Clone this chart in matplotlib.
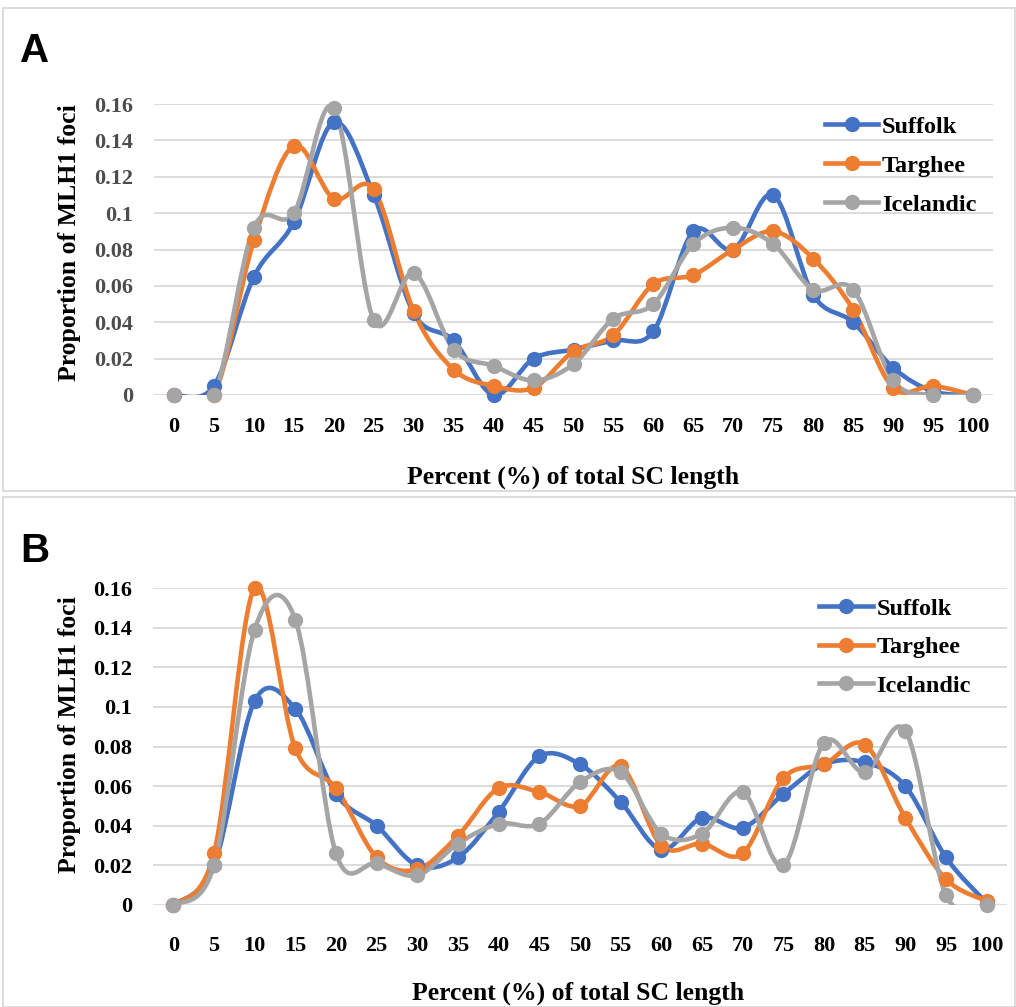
import matplotlib.pyplot as plt
import numpy as np
from matplotlib.path import Path
from matplotlib.patches import PathPatch, Rectangle
from matplotlib.lines import Line2D

plt.rcParams['font.family'] = ['Liberation Serif', 'DejaVu Serif']
plt.rcParams['font.weight'] = 'bold'

categories = [str(v) for v in range(0, 101, 5)]

# panel A
suffolk_a = [0, 0.005, 0.065, 0.095, 0.150, 0.110, 0.045, 0.030, 0.000, 0.020, 0.025,
             0.030, 0.035, 0.090, 0.080, 0.110, 0.055, 0.040, 0.015, 0.002, 0]
targhee_a = [0, 0, 0.085, 0.137, 0.108, 0.113, 0.046, 0.014, 0.005, 0.004, 0.024,
             0.033, 0.061, 0.066, 0.080, 0.090, 0.075, 0.047, 0.004, 0.005, 0]
icelandic_a = [0, 0, 0.092, 0.100, 0.158, 0.041, 0.067, 0.025, 0.016, 0.008, 0.017,
               0.042, 0.050, 0.083, 0.092, 0.083, 0.058, 0.058, 0.008, 0, 0]

# panel B
suffolk_b = [0, 0.020, 0.103, 0.099, 0.056, 0.040, 0.020, 0.024, 0.047, 0.075, 0.071,
             0.052, 0.028, 0.044, 0.039, 0.056, 0.071, 0.072, 0.060, 0.024, 0.001]
targhee_b = [0, 0.026, 0.160, 0.079, 0.059, 0.024, 0.018, 0.035, 0.059, 0.057, 0.050,
             0.070, 0.030, 0.031, 0.026, 0.064, 0.071, 0.081, 0.044, 0.013, 0.002]
icelandic_b = [0, 0.020, 0.139, 0.144, 0.026, 0.021, 0.015, 0.031, 0.041, 0.041, 0.062,
               0.067, 0.036, 0.036, 0.057, 0.020, 0.082, 0.067, 0.088, 0.005, 0]

names = ["Suffolk", "Targhee", "Icelandic"]
colors = ["#4472C4", "#ED7D31", "#A5A5A5"]
ytick_labels = ["0", "0.02", "0.04", "0.06", "0.08", "0.1", "0.12", "0.14", "0.16"]

W, H = 1016, 1007


def smooth_path(x, y):
    # Excel-like smoothed line: cubic Bezier with Catmull-Rom control points
    pts = np.column_stack([x, y]).astype(float)
    n = len(pts)
    verts = [pts[0]]
    codes = [Path.MOVETO]
    for i in range(n - 1):
        p0 = pts[i - 1] if i > 0 else pts[i]
        p1 = pts[i]
        p2 = pts[i + 1]
        p3 = pts[i + 2] if i + 2 < n else pts[i + 1]
        c1 = p1 + (p2 - p0) / 6.0
        c2 = p2 - (p3 - p1) / 6.0
        verts += [c1, c2, p2]
        codes += [Path.CURVE4] * 3
    return Path(verts, codes)


def draw_panel(ax, series, legend_anchor, xpad, ycolor, lspacing):
    x = np.arange(len(categories))
    ax.set_xlim(-0.5, len(categories) - 0.5)
    ax.set_ylim(0, 0.16)
    ax.set_yticks(np.arange(0, 0.161, 0.02))
    ax.set_yticklabels(ytick_labels)
    ax.set_xticks(x)
    ax.set_xticklabels(categories)
    ax.grid(axis='y', color='#D9D9D9', lw=1.3)
    ax.set_axisbelow(True)
    for s in ax.spines.values():
        s.set_visible(False)
    ax.tick_params(axis='x', length=0, labelsize=16, pad=xpad)
    ax.tick_params(axis='y', length=0, labelsize=16, pad=15, labelcolor=ycolor)
    for vals, col in zip(series, colors):
        ax.add_patch(PathPatch(smooth_path(x, vals), fill=False, edgecolor=col,
                               lw=3.3, capstyle='round', joinstyle='round', zorder=3))
        ax.plot(x, vals, 'o', color=col, ms=10, zorder=4, clip_on=False)
    handles = [Line2D([0], [0], color=c, lw=3.3, marker='o', ms=10) for c in colors]
    ax.legend(handles, names, loc='upper left', bbox_to_anchor=legend_anchor,
              frameon=False, fontsize=17.5, handlelength=2.2, handletextpad=0.15,
              labelspacing=lspacing, borderaxespad=0)


fig = plt.figure(figsize=(W / 100, H / 100), dpi=100)

fig.add_artist(Rectangle((3 / W, 1 - 491 / H), 1012 / W, 483 / H,
                         transform=fig.transFigure, fill=False, edgecolor='#D9D9D9', lw=1.3))
fig.add_artist(Rectangle((3 / W, 0.0), 1012 / W, 510 / H,
                         transform=fig.transFigure, fill=False, edgecolor='#D9D9D9', lw=1.3))

ax_a = fig.add_axes([154 / W, 1 - 395 / H, 839 / W, 291 / H])
draw_panel(ax_a, [suffolk_a, targhee_a, icelandic_a], (0.788, 0.993), 16, '#4D4D4D', 0.70)

ax_b = fig.add_axes([153 / W, 1 - 905 / H, 854 / W, 317 / H])
draw_panel(ax_b, [suffolk_b, targhee_b, icelandic_b], (0.769, 1.0), 22, 'black', 0.68)

# axis titles
fig.text(573 / W, 1 - 477 / H, "Percent (%) of total SC length", fontsize=18.5,
         fontweight='bold', ha='center', va='center')
fig.text(578 / W, 1 - 993 / H, "Percent (%) of total SC length", fontsize=18.5,
         fontweight='bold', ha='center', va='center')
fig.text(70 / W, 1 - 243 / H, "Proportion of MLH1 foci", fontsize=18.5,
         fontweight='bold', ha='center', va='center', rotation=90)
fig.text(70 / W, 1 - 735 / H, "Proportion of MLH1 foci", fontsize=18.5,
         fontweight='bold', ha='center', va='center', rotation=90)

fig.text(20 / W, 1 - 62 / H, "A", fontsize=29, fontweight='bold',
         family=['Liberation Sans', 'DejaVu Sans'])
fig.text(20 / W, 1 - 562 / H, "B", fontsize=29, fontweight='bold',
         family=['Liberation Sans', 'DejaVu Sans'])

fig.savefig("out.png", dpi=100)
